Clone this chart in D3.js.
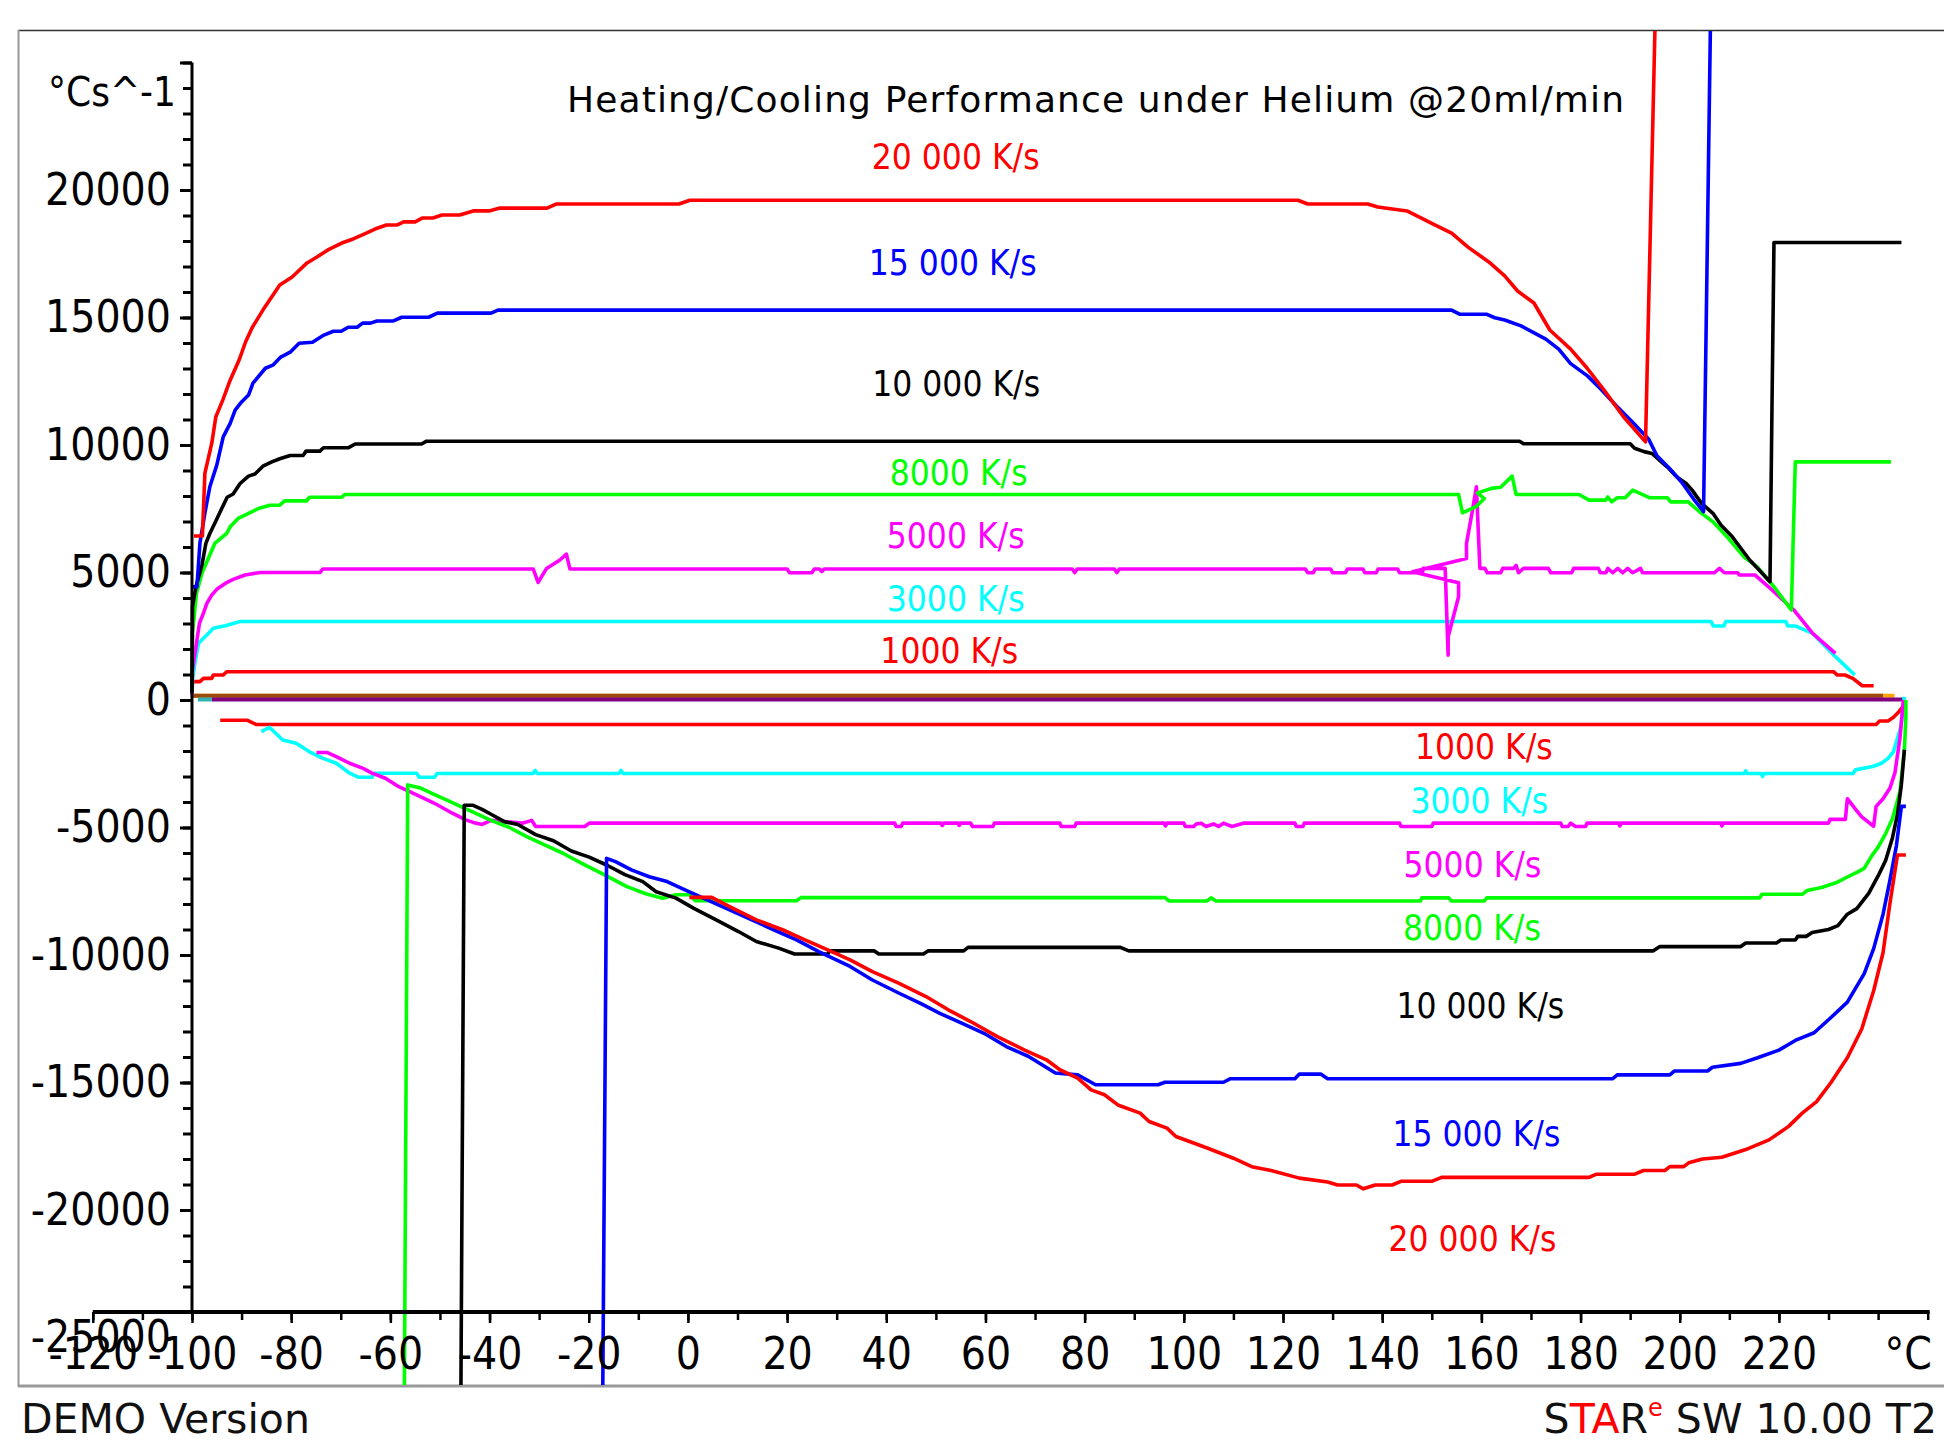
<!DOCTYPE html>
<html>
<head>
<meta charset="utf-8">
<script src="https://cdn.jsdelivr.net/npm/d3@7"></script>
<style>
  body { margin: 0; background: #fff; }
  svg { display: block; background: #fff; }
  .cond { font-family: "DejaVu Sans Condensed", "DejaVu Sans", sans-serif; font-stretch: condensed; }
  .wide { font-family: "DejaVu Sans", Verdana, sans-serif; }
</style>
</head>
<body>
<svg id="chart" width="1944" height="1448"></svg>
<script>
// heating runs (°C, °C/s)
const heat20000 = [[-99.6,6430],[-97.9,6430],[-97.4,8890],[-96,10080],[-95.2,11100],[-93.8,11760],[-92.3,12540],[-90.5,13330],[-89.2,14040],[-87.9,14590],[-85.7,15290],[-82.3,16270],[-79.8,16590],[-76.8,17140],[-74.8,17370],[-72.6,17650],[-69.8,17920],[-67.5,18080],[-65.3,18270],[-63.1,18470],[-60.8,18630],[-58.6,18630],[-57.3,18750],[-55,18750],[-53.6,18900],[-51.4,18900],[-49.6,19020],[-46,19020],[-43.3,19180],[-40.1,19180],[-37.9,19290],[-28.4,19290],[-26.6,19450],[-1.8,19450],[0.4,19600],[123,19600],[125,19450],[137.1,19450],[139.1,19330],[145,19180],[150.6,18630],[154,18310],[157.3,17760],[161.5,17180],[164.7,16630],[167.3,16040],[170.6,15570],[173.8,14510],[178,13760],[181.3,13020],[184.7,12160],[188.7,11100],[193.1,10120],[195.2,28000]];
const heat15000 = [[-99.8,4440],[-99,4440],[-98.4,6150],[-97.4,7330],[-96.4,8360],[-95,9210],[-93.7,10320],[-92.3,10850],[-91.3,11370],[-90,11690],[-88.6,11960],[-87.7,12430],[-85.2,13010],[-83.7,13130],[-82.1,13450],[-80.2,13640],[-78.4,13990],[-75.7,14030],[-73.4,14310],[-71.5,14460],[-69.9,14460],[-68.5,14620],[-66.7,14620],[-65.6,14780],[-64,14780],[-62.7,14860],[-59.5,14860],[-57.7,15010],[-52.3,15010],[-50.5,15170],[-39.7,15170],[-38.3,15290],[154,15290],[155.6,15130],[161,15130],[162.7,14990],[164.7,14900],[168,14670],[173,14150],[175.6,13760],[178,13190],[181.4,12710],[183.9,12230],[187.1,11560],[190.4,10910],[193.7,10240],[195.4,9580],[197.9,9090],[200.4,8540],[202.8,7880],[204.8,7390],[206.3,28000]];
const heat10000 = [[-100,300],[-99.9,3660],[-99.2,4440],[-98,5290],[-97.2,6140],[-96.4,6530],[-95.4,6930],[-94,7510],[-92.9,7950],[-91.7,8080],[-90.3,8490],[-88.6,8780],[-87.3,8860],[-85.7,9170],[-83.9,9340],[-82.3,9460],[-80.2,9590],[-77.6,9590],[-77,9760],[-74.2,9760],[-73.5,9890],[-68.5,9890],[-67.1,10040],[-53.7,10040],[-52.7,10150],[167.7,10150],[168.5,10050],[190,10050],[190.9,9870],[192.8,9740],[194.4,9670],[195.9,9410],[197.8,9080],[199.4,8750],[201.3,8490],[202.5,8230],[204.4,7710],[206.7,7320],[208.3,6860],[210.6,6400],[212.1,6010],[214.1,5490],[216,5100],[218.2,4640],[218.6,11480],[219,17940],[244.7,17940]];
const heat8000 = [[-100,300],[-99.9,2610],[-99.1,4180],[-98,4970],[-97,5420],[-95.4,6140],[-93,6530],[-92.3,6790],[-90.7,7120],[-89.3,7250],[-86.6,7510],[-84.3,7640],[-82.3,7640],[-81.3,7810],[-76.9,7810],[-76.3,7950],[-69.8,7950],[-69.2,8060],[155.4,8060],[156.2,7340],[158.9,7580],[160.6,7900],[159.2,8120],[162,8300],[163.9,8340],[166.2,8780],[167,8060],[179.7,8060],[181.7,7840],[185.1,7840],[185.5,7960],[186.3,7770],[187.4,7930],[189,7930],[190.5,8230],[194,7930],[197.5,7930],[198.2,7770],[201.7,7770],[204.4,7320],[206.7,6990],[209.8,6340],[212.9,5620],[215.6,5230],[219,4440],[222.5,3530],[223.3,9340],[242.6,9340]];
const heat5000 = [[-100,200],[-99.9,1180],[-99.1,2220],[-98.5,3010],[-97.7,3400],[-97,3790],[-96,4120],[-95,4340],[-93.3,4570],[-91.7,4730],[-89.3,4900],[-86.3,5000],[-74.2,5000],[-73.6,5140],[-31.2,5140],[-30.2,4610],[-28.5,5160],[-25.8,5490],[-24.5,5720],[-23.8,5140],[20,5140],[20.5,4990],[25,4990],[25.5,5140],[26.5,5140],[27,5040],[27.5,5140],[77.5,5140],[78,5000],[78.5,5140],[86,5140],[86.5,5000],[87,5140],[124.5,5140],[125,4990],[126.1,4990],[126.5,5140],[129.6,5140],[130,4990],[132.6,4990],[133,5140],[136.1,5140],[136.5,4990],[138.8,4990],[139.2,5140],[143.1,5140],[143.5,4990],[148.1,4990],[148.3,5160],[152.7,5160],[153.3,1760],[153.3,2480],[155.4,4050],[155.4,4600],[146.1,5030],[157,5550],[157,6140],[158.1,7320],[159,8360],[159.7,5160],[160.7,5160],[161.2,4990],[163.9,4990],[164.3,5160],[166.5,5160],[167,5280],[167.5,4990],[168.5,5160],[173.5,5160],[174,4990],[178.2,4990],[178.6,5160],[183.6,5160],[184,4990],[185.1,4990],[185.5,5160],[186.5,4990],[187.5,5160],[188.5,4990],[189.5,5160],[190.5,4990],[192.1,5160],[192.5,4990],[207,4990],[208,5160],[209,4990],[211.7,4990],[212,4900],[215.2,4900],[217.9,4440],[223,3530],[226.8,2610],[231.4,1830]];
const heat3000 = [[-100,200],[-99.9,780],[-99.4,1440],[-98.7,2220],[-97.7,2420],[-96.7,2610],[-95.7,2810],[-93.3,2910],[-90.3,3080],[206.3,3080],[206.8,2900],[208.9,2900],[209.3,3080],[221.4,3080],[221.8,2900],[223.4,2900],[226.8,2610],[231.4,1700],[235.3,980]];
const heat1000 = [[-100,300],[-99.9,720],[-98.4,720],[-97.7,850],[-96,850],[-95.7,980],[-93.7,980],[-93,1110],[231,1110],[231.8,980],[233.3,980],[234.9,850],[236.8,560],[239.1,560]];

// baselines near zero
const baseOrange = [[-100,170],[243.3,170]];
const baseBrown = [[-100,170],[241,170]];
const basePurple = [[-96,20],[245,20]];
const baseTeal = [[-98.8,20],[-96,20]];

// cooling runs
const cool1000 = [[-94.3,-797],[-88.8,-797],[-87.1,-960],[239.6,-960],[240.3,-823],[242,-823],[243.1,-680],[244.2,-460],[245,-260],[245.3,0]];
const cool3000 = [[-86,-1240],[-84.4,-1070],[-81.7,-1570],[-79,-1700],[-76.3,-2030],[-73.6,-2290],[-70.9,-2480],[-68.2,-2870],[-66.4,-3030],[-63.7,-3030],[-63.2,-2870],[-54.7,-2870],[-54.2,-3030],[-51.1,-3030],[-50.6,-2880],[-31.2,-2880],[-30.8,-2760],[-30.4,-2880],[-13.9,-2880],[-13.5,-2760],[-13.1,-2880],[213,-2880],[213.3,-2780],[213.6,-2880],[216.4,-2880],[216.7,-3000],[217,-2880],[235,-2880],[235.4,-2740],[238.9,-2610],[240.7,-2480],[242,-2290],[243.1,-2030],[243.8,-1570],[244.6,-1050],[245.3,130]];
const cool5000 = [[-74.9,-2060],[-72.7,-2060],[-70.9,-2220],[-68.2,-2480],[-65.5,-2680],[-63.7,-2870],[-61,-3070],[-58.3,-3400],[-54.7,-3720],[-51.1,-4050],[-47.5,-4440],[-44.8,-4700],[-43.3,-4800],[-41.5,-4880],[-39.7,-4720],[-33.4,-4830],[-31.5,-4720],[-30.7,-4960],[-20.8,-4960],[-19.9,-4830],[41.7,-4830],[42,-4960],[43,-4960],[43.3,-4830],[51,-4830],[51.3,-4920],[51.6,-4830],[54.5,-4830],[54.7,-4920],[55,-4830],[57,-4830],[57.4,-4960],[61.5,-4960],[61.8,-4830],[75,-4830],[75.3,-4960],[78,-4960],[78.3,-4830],[96,-4830],[96.3,-4940],[96.6,-4830],[100,-4830],[100.3,-4960],[102,-4960],[102.5,-4860],[103.5,-4830],[104.5,-4960],[106,-4860],[107,-4960],[108,-4830],[109.7,-4960],[112,-4830],[122.4,-4830],[122.7,-4960],[124,-4960],[124.3,-4830],[143.5,-4830],[143.8,-4960],[150,-4960],[150.3,-4830],[176,-4830],[176.3,-4960],[177.5,-4960],[178,-4830],[179,-4960],[181,-4960],[181.3,-4830],[187.7,-4830],[187.9,-4940],[188.2,-4830],[208.3,-4830],[208.5,-4940],[208.8,-4830],[230,-4830],[230.3,-4680],[233.4,-4680],[233.8,-3870],[235.7,-4350],[236.7,-4580],[239.1,-4950],[239.6,-4170],[241,-3870],[242.4,-3450],[243.4,-2850],[244.4,-1500],[245.1,0]];
const cool8000 = [[-57.2,-28000],[-56.5,-3330],[-54.1,-3440],[-51.4,-3680],[-48.7,-3920],[-46,-4160],[-43.3,-4400],[-39.7,-4720],[-36.1,-4990],[-32.5,-5360],[-28.9,-5680],[-25.3,-6000],[-21.5,-6400],[-16.8,-6860],[-12.3,-7320],[-8.5,-7600],[-5.1,-7770],[-2.4,-7640],[0.3,-7640],[1.5,-7870],[21.9,-7870],[22.8,-7750],[96.2,-7750],[97,-7880],[104.7,-7880],[105.5,-7760],[106.5,-7880],[147.7,-7880],[148,-7760],[153.4,-7760],[154,-7880],[160.6,-7880],[161.1,-7760],[216.1,-7760],[216.6,-7620],[224.7,-7620],[225.7,-7470],[228.6,-7350],[231.5,-7170],[233.4,-6980],[235.8,-6750],[237.2,-6600],[238.6,-6150],[240,-5770],[241.5,-5250],[242.9,-4650],[244.4,-3600],[245.3,-1950],[245.6,-670],[245.6,0]];
const cool10000 = [[-45.8,-28000],[-45.1,-4130],[-43.3,-4130],[-41.5,-4290],[-39.7,-4480],[-37,-4770],[-34.3,-4880],[-30.7,-5280],[-27.1,-5520],[-23.5,-5920],[-19.9,-6160],[-16.3,-6480],[-12.7,-6850],[-9.1,-7120],[-6.4,-7520],[-2.4,-7770],[1.2,-8170],[5.7,-8620],[10.2,-9080],[13.8,-9470],[18.3,-9730],[21.5,-9960],[28.2,-9960],[28.6,-9840],[37.6,-9840],[38.5,-9960],[47.5,-9960],[48.4,-9840],[55.6,-9840],[56.5,-9700],[87.2,-9700],[88.9,-9840],[194.6,-9840],[196,-9670],[212.3,-9670],[213.3,-9530],[219.5,-9530],[220.4,-9410],[223.3,-9410],[223.8,-9270],[225.5,-9270],[226.7,-9120],[230,-9000],[231.9,-8850],[233.8,-8400],[235.7,-8180],[238.1,-7580],[240,-6900],[241.5,-6300],[242.9,-5400],[243.9,-4500],[244.7,-3300],[245.3,-1950]];
const cool15000 = [[-17.2,-28000],[-16.4,-6210],[-14.6,-6340],[-11.4,-6660],[-7.8,-6930],[-4.2,-7120],[-0.6,-7450],[3.9,-7840],[8.4,-8230],[12.9,-8620],[17.4,-9020],[21.9,-9410],[26.4,-9870],[32.7,-10450],[37.2,-10980],[42.6,-11500],[47.1,-11920],[50.7,-12280],[55.2,-12670],[59.7,-13070],[64.2,-13590],[68.7,-13980],[74.1,-14630],[78.6,-14700],[82.2,-15090],[94.8,-15090],[96.2,-14990],[108,-14990],[109.4,-14850],[122.4,-14850],[123.3,-14670],[127.6,-14670],[129,-14850],[186.5,-14850],[187.4,-14700],[198,-14700],[198.9,-14550],[205.6,-14550],[206.6,-14400],[212.3,-14250],[215.7,-14030],[220,-13730],[223.3,-13350],[227.1,-13050],[230.5,-12450],[233.8,-11850],[237.2,-10730],[239.1,-9750],[241,-8400],[242.4,-7050],[243.7,-5700],[244.7,-4170],[245.6,-4170]];
const cool20000 = [[0.3,-7740],[4.8,-7740],[8.4,-8100],[13.8,-8620],[19.2,-9020],[22.8,-9340],[28.2,-9800],[32.7,-10190],[37.2,-10650],[42.6,-11110],[48,-11630],[52.5,-12150],[57,-12610],[62.4,-13200],[67.8,-13720],[72.3,-14110],[75,-14500],[78.6,-14830],[81.3,-15290],[84,-15480],[86.7,-15880],[91.2,-16200],[93,-16530],[96.6,-16790],[98.4,-17120],[104.7,-17570],[110,-17970],[113.7,-18300],[117.6,-18450],[123.3,-18750],[129,-18900],[131,-19020],[134.8,-19020],[136.2,-19170],[138.6,-19020],[142,-19020],[143.9,-18870],[150.1,-18870],[152,-18720],[181.7,-18720],[183.1,-18600],[190.8,-18600],[192.7,-18450],[197,-18450],[198,-18300],[200.8,-18300],[201.8,-18150],[204.6,-18000],[208.5,-17930],[213.3,-17630],[218,-17250],[221.9,-16730],[224.7,-16200],[227.6,-15750],[230.5,-15000],[233.8,-14030],[236.7,-12900],[239.1,-11400],[241,-9900],[242.4,-7950],[243.9,-6080],[245.6,-6080]];

// curve labels: text, T, value at baseline, colour
const rateLabels = [
  ["20 000 K/s", 54, 20830, "#ff0000"], ["15 000 K/s", 53.4, 16670, "#0000ff"],
  ["10 000 K/s", 54.1, 11940, "#000000"], ["8000 K/s", 54.6, 8450, "#00ff00"],
  ["5000 K/s", 54, 5960, "#ff00ff"], ["3000 K/s", 54, 3490, "#00ffff"],
  ["1000 K/s", 52.7, 1460, "#ff0000"],
  ["1000 K/s", 160.5, -2330, "#ff0000"], ["3000 K/s", 159.6, -4430, "#00ffff"],
  ["5000 K/s", 158.2, -6930, "#ff00ff"], ["8000 K/s", 158.1, -9420, "#00ff00"],
  ["10 000 K/s", 159.8, -12480, "#000000"], ["15 000 K/s", 159, -17480, "#0000ff"],
  ["20 000 K/s", 158.2, -21600, "#ff0000"]
];

const yMajor = [25000, 20000, 15000, 10000, 5000, 0, -5000, -10000, -15000, -20000];
const xMajor = [-120, -100, -80, -60, -40, -20, 0, 20, 40, 60, 80, 100, 120, 140, 160, 180, 200, 220];

const W = 1944, H = 1448;
const svg = d3.select("#chart");

const x = d3.scaleLinear().domain([-120, 250]).range([92.8, 1927.7]);
const y = d3.scaleLinear().domain([25000, -24000]).range([62.5, 1312]);

// frame
svg.append("line").attr("x1", 18).attr("x2", W).attr("y1", 30.5).attr("y2", 30.5)
  .attr("stroke", "#333").attr("stroke-width", 1.5);
svg.append("line").attr("x1", 18.5).attr("x2", 18.5).attr("y1", 30).attr("y2", 1387)
  .attr("stroke", "#999").attr("stroke-width", 2);
svg.append("line").attr("x1", 18).attr("x2", W).attr("y1", 1386).attr("y2", 1386)
  .attr("stroke", "#999").attr("stroke-width", 3);

svg.append("clipPath").attr("id", "plot")
  .append("rect").attr("x", 19).attr("y", 31).attr("width", W - 19).attr("height", 1354);

const line = d3.line().x(d => x(d[0])).y(d => y(d[1]));

const curves = [
  [baseOrange, "#ffa500"], [baseBrown, "#9a4a0c"], [basePurple, "#800080"], [baseTeal, "#30b0b0"],
  [heat1000, "#ff0000"], [heat3000, "#00ffff"], [heat5000, "#ff00ff"], [heat8000, "#00ff00"],
  [heat10000, "#000000"], [heat15000, "#0000ff"], [heat20000, "#ff0000"],
  [cool1000, "#ff0000"], [cool3000, "#00ffff"], [cool5000, "#ff00ff"], [cool8000, "#00ff00"],
  [cool10000, "#000000"], [cool15000, "#0000ff"], [cool20000, "#ff0000"]
];

svg.append("g")
  .attr("clip-path", "url(#plot)")
  .selectAll("path")
  .data(curves)
  .join("path")
  .attr("fill", "none")
  .attr("stroke", d => d[1])
  .attr("stroke-width", (d, i) => (i < 4 ? 4 : 3.6))
  .attr("stroke-linejoin", "round")
  .attr("d", d => line(d[0]));

// y axis
const yAxisG = svg.append("g").attr("transform", `translate(${x(-100)},0)`);
yAxisG.append("g")
  .call(d3.axisLeft(y).tickValues(d3.range(-24000, 25001, 1000)).tickSize(9).tickFormat(""))
  .call(g => g.select(".domain").remove())
  .call(g => g.selectAll("line").attr("stroke-width", 3));
yAxisG.append("g")
  .attr("class", "cond")
  .call(d3.axisLeft(y).tickValues(yMajor).tickSize(12).tickPadding(9)
    .tickFormat(d => (d === 25000 ? "" : String(d))))
  .call(g => g.select(".domain").remove())
  .call(g => g.selectAll("line").attr("stroke-width", 3))
  .call(g => g.selectAll("text").attr("font-size", 44).attr("fill", "#000").attr("font-family", null));
yAxisG.append("line").attr("x1", 0).attr("x2", 0).attr("y1", y(25000)).attr("y2", y(-24000))
  .attr("stroke", "#000").attr("stroke-width", 3);
yAxisG.append("text").attr("class", "cond")
  .attr("x", -21).attr("y", y(-25000)).attr("dy", "0.34em")
  .attr("text-anchor", "end").attr("font-size", 44).text("-25000");
svg.append("text").attr("class", "cond")
  .attr("x", 176).attr("y", 106).attr("text-anchor", "end").attr("font-size", 40)
  .text("°Cs^-1");

// x axis
const xAxisG = svg.append("g").attr("transform", `translate(0,${y(-24000)})`);
xAxisG.append("g")
  .call(d3.axisBottom(x).tickValues(d3.range(-120, 251, 10)).tickSize(8).tickFormat(""))
  .call(g => g.select(".domain").remove())
  .call(g => g.selectAll("line").attr("stroke-width", 2.5));
xAxisG.append("g")
  .attr("class", "cond")
  .call(d3.axisBottom(x).tickValues(xMajor).tickSize(11).tickPadding(15).tickFormat(d => String(d)))
  .call(g => g.select(".domain").remove())
  .call(g => g.selectAll("line").attr("stroke-width", 2.5))
  .call(g => g.selectAll("text").attr("font-size", 44).attr("fill", "#000").attr("font-family", null));
xAxisG.append("line").attr("x1", x(-120)).attr("x2", x(250) + 2).attr("y1", 0).attr("y2", 0)
  .attr("stroke", "#000").attr("stroke-width", 4);
xAxisG.append("text").attr("class", "cond")
  .attr("x", 1932).attr("y", 57).attr("text-anchor", "end").attr("font-size", 44).text("°C");

// title
svg.append("text").attr("class", "wide")
  .attr("x", 567).attr("y", 112).attr("font-size", 36)
  .attr("textLength", 1057).attr("lengthAdjust", "spacing")
  .text("Heating/Cooling Performance under Helium @20ml/min");

// rate labels
svg.append("g").attr("class", "cond")
  .selectAll("text")
  .data(rateLabels)
  .join("text")
  .attr("x", d => x(d[1]))
  .attr("y", d => y(d[2]))
  .attr("text-anchor", "middle")
  .attr("font-size", 35)
  .attr("fill", d => d[3])
  .text(d => d[0]);

// footer
svg.append("text").attr("class", "wide")
  .attr("x", 21).attr("y", 1433).attr("font-size", 41).attr("fill", "#111")
  .text("DEMO Version");
const star = svg.append("text").attr("class", "wide")
  .attr("x", 1937).attr("y", 1433).attr("font-size", 41).attr("fill", "#111")
  .attr("text-anchor", "end");
star.append("tspan").text("S");
star.append("tspan").attr("fill", "#ff0000").text("TA");
star.append("tspan").text("R");
star.append("tspan").attr("fill", "#ff0000").attr("font-size", 24).attr("dy", -17).text("e");
star.append("tspan").attr("dy", 17).text(" SW 10.00 T2");
</script>
</body>
</html>
